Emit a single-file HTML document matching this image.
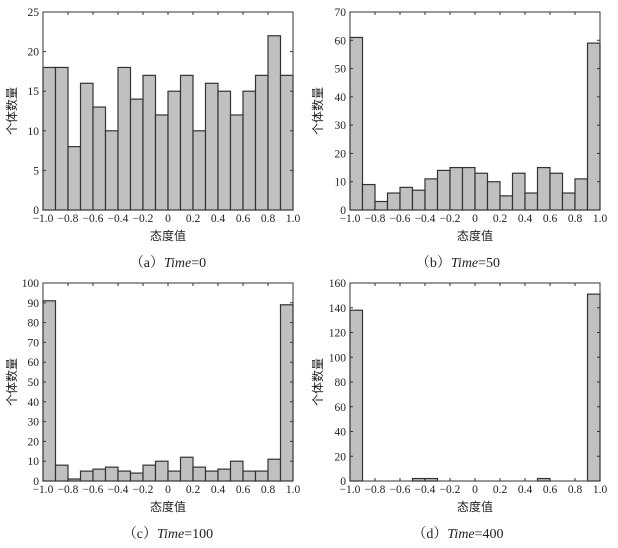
<!DOCTYPE html>
<html><head><meta charset="utf-8"><style>
html,body{margin:0;padding:0;background:#fff;}
svg{display:block;}
text{font-family:"Liberation Serif","Noto Serif CJK SC",serif;font-size:11.5px;fill:#222;}
.cj{font-family:"Liberation Serif","Noto Sans CJK SC",sans-serif;font-size:12px;}
.cap{font-size:14px;}
</style></head><body>
<svg id="s" width="618" height="548" viewBox="0 0 618 548" xmlns="http://www.w3.org/2000/svg">
<g id="pa" transform="translate(43,12)">
 <g text-anchor="end"><text x="-4" y="202">0</text><text x="-4" y="162.4">5</text><text x="-4" y="122.8">10</text><text x="-4" y="83.2">15</text><text x="-4" y="43.6">20</text><text x="-4" y="4">25</text></g>
</g>
<g id="pb" transform="translate(350,12)">
 <g text-anchor="end"><text x="-4" y="202">0</text><text x="-4" y="173.7">10</text><text x="-4" y="145.4">20</text><text x="-4" y="117.1">30</text><text x="-4" y="88.9">40</text><text x="-4" y="60.6">50</text><text x="-4" y="32.3">60</text><text x="-4" y="4">70</text></g>
</g>
<g id="pc" transform="translate(43,283)">
 <g text-anchor="end"><text x="-4" y="202">0</text><text x="-4" y="182.2">10</text><text x="-4" y="162.4">20</text><text x="-4" y="142.6">30</text><text x="-4" y="122.8">40</text><text x="-4" y="103">50</text><text x="-4" y="83.2">60</text><text x="-4" y="63.4">70</text><text x="-4" y="43.6">80</text><text x="-4" y="23.8">90</text><text x="-4" y="4">100</text></g>
</g>
<g id="pd" transform="translate(350,283)">
 <g text-anchor="end"><text x="-4" y="202">0</text><text x="-4" y="177.25">20</text><text x="-4" y="152.5">40</text><text x="-4" y="127.75">60</text><text x="-4" y="103">80</text><text x="-4" y="78.25">100</text><text x="-4" y="53.5">120</text><text x="-4" y="28.75">140</text><text x="-4" y="4">160</text></g>
</g>
<g text-anchor="middle">
 <g transform="translate(43,222)"><text x="0">−1.0</text><text x="25">−0.8</text><text x="50">−0.6</text><text x="75">−0.4</text><text x="100">−0.2</text><text x="125">0</text><text x="150">0.2</text><text x="175">0.4</text><text x="200">0.6</text><text x="225">0.8</text><text x="250">1.0</text></g>
 <g transform="translate(350,222)"><text x="0">−1.0</text><text x="25">−0.8</text><text x="50">−0.6</text><text x="75">−0.4</text><text x="100">−0.2</text><text x="125">0</text><text x="150">0.2</text><text x="175">0.4</text><text x="200">0.6</text><text x="225">0.8</text><text x="250">1.0</text></g>
 <g transform="translate(43,493)"><text x="0">−1.0</text><text x="25">−0.8</text><text x="50">−0.6</text><text x="75">−0.4</text><text x="100">−0.2</text><text x="125">0</text><text x="150">0.2</text><text x="175">0.4</text><text x="200">0.6</text><text x="225">0.8</text><text x="250">1.0</text></g>
 <g transform="translate(350,493)"><text x="0">−1.0</text><text x="25">−0.8</text><text x="50">−0.6</text><text x="75">−0.4</text><text x="100">−0.2</text><text x="125">0</text><text x="150">0.2</text><text x="175">0.4</text><text x="200">0.6</text><text x="225">0.8</text><text x="250">1.0</text></g>
 <text class="cj" x="168" y="240">态度值</text>
 <text class="cj" x="475" y="240">态度值</text>
 <text class="cj" x="168" y="511">态度值</text>
 <text class="cj" x="475" y="511">态度值</text>
 <text class="cap" x="168" y="267">（a）<tspan font-style="italic">Time</tspan>=0</text>
 <text class="cap" x="458" y="267">（b）<tspan font-style="italic">Time</tspan>=50</text>
 <text class="cap" x="168" y="538">（c）<tspan font-style="italic">Time</tspan>=100</text>
 <text class="cap" x="458" y="538">（d）<tspan font-style="italic">Time</tspan>=400</text>
 <text class="cj" transform="translate(16,111) rotate(-90)">个体数量</text>
 <text class="cj" transform="translate(322,111) rotate(-90)">个体数量</text>
 <text class="cj" transform="translate(16,382) rotate(-90)">个体数量</text>
 <text class="cj" transform="translate(322,382) rotate(-90)">个体数量</text>
</g>
</svg>
<script>
var NS="http://www.w3.org/2000/svg";
var P=[["pa",25,5,[18,18,8,16,13,10,18,14,17,12,15,17,10,16,15,12,15,17,22,17]],
["pb",70,10,[61,9,3,6,8,7,11,14,15,15,13,10,5,13,6,15,13,6,11,59]],
["pc",100,10,[91,8,1,5,6,7,5,4,8,10,5,12,7,5,6,10,5,5,11,89]],
["pd",160,20,[138,0,0,0,0,2,2,0,0,0,0,0,0,0,0,2,0,0,0,151]]];
var W=250,H=198;
function el(g,t,a){var e=document.createElementNS(NS,t);for(var k in a)e.setAttribute(k,a[k]);g.appendChild(e);return e;}
P.forEach(function(p){
 var g=document.getElementById(p[0]);
 p[3].forEach(function(v,i){ if(v>0){var h=v/p[1]*H;
  el(g,"rect",{x:i*12.5,y:H-h,width:12.5,height:h,fill:"#c0c0c0",stroke:"#333","stroke-width":1.2});}});
 el(g,"rect",{x:0,y:0,width:W,height:H,fill:"none",stroke:"#333","stroke-width":1});
 for(var i=1;i<10;i++){var x=i*25;
  el(g,"line",{x1:x,y1:H,x2:x,y2:H-3,stroke:"#333"});el(g,"line",{x1:x,y1:0,x2:x,y2:3,stroke:"#333"});}
 for(var v=p[2];v<p[1];v+=p[2]){var y=H-v/p[1]*H;
  el(g,"line",{x1:0,y1:y,x2:3,y2:y,stroke:"#333"});el(g,"line",{x1:W,y1:y,x2:W-3,y2:y,stroke:"#333"});}
});
</script>
</body></html>
